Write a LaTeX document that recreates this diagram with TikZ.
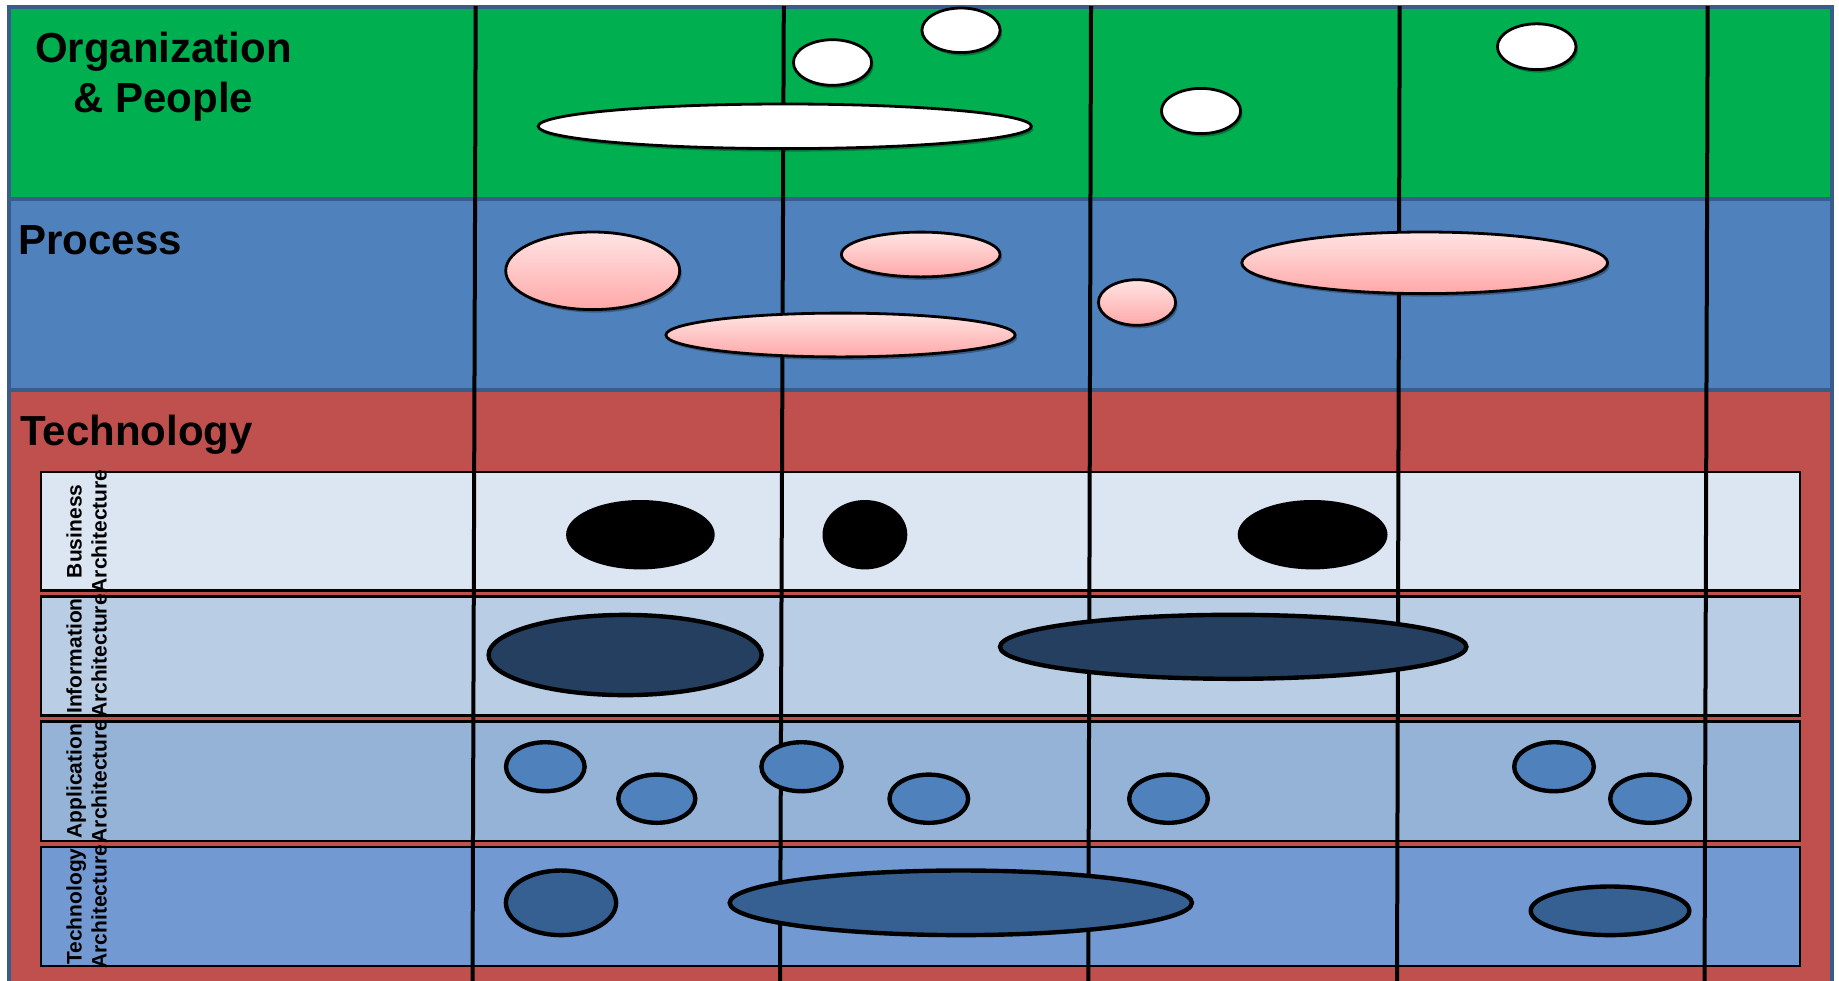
\documentclass[tikz,border=0pt]{standalone}
\usepackage{fontspec}
\setmainfont{Liberation Sans}
\usetikzlibrary{shapes.geometric,shadows}
\definecolor{bandgreen}{HTML}{00B050}
\definecolor{bandblue}{HTML}{4F81BD}
\definecolor{bandred}{HTML}{C0504D}
\definecolor{bandborder}{HTML}{385D8A}
\definecolor{rowA}{HTML}{DCE6F2}
\definecolor{rowB}{HTML}{B9CDE5}
\definecolor{rowC}{HTML}{95B3D7}
\definecolor{rowD}{HTML}{7299D2}
\definecolor{pinkTop}{HTML}{FFE4E4}
\definecolor{pinkBot}{HTML}{FFA8A8}
\definecolor{infoFill}{HTML}{243F60}
\definecolor{appFill}{HTML}{4F81BD}
\definecolor{techFill}{HTML}{366092}
\begin{document}
\begin{tikzpicture}[x=0.5pt,y=-0.5pt,
  band/.style={draw=bandborder, line width=2pt},
  rowbox/.style={draw=black, line width=1.1pt},
  vline/.style={draw=black, line width=2pt},
  blob/.style={ellipse, inner sep=0pt, outer sep=0pt},
  softshadow/.style={drop shadow={shadow xshift=1pt, shadow yshift=-1.5pt, opacity=0.3, fill=black}},
  orgE/.style={blob, fill=white, draw=black, line width=1.4pt, softshadow},
  procE/.style={blob, top color=pinkTop, bottom color=pinkBot, draw=black, line width=1.4pt, softshadow},
  busE/.style={blob, fill=black},
  infoE/.style={blob, fill=infoFill, draw=black, line width=2.2pt},
  appE/.style={blob, fill=appFill, draw=black, line width=2.2pt},
  techE/.style={blob, fill=techFill, draw=black, line width=2.2pt},
  bandlabel/.style={font=\fontsize{21}{25}\selectfont\bfseries, inner sep=0pt},
  rowlabel/.style={font=\fontsize{10.5}{12.5}\selectfont\bfseries, rotate=90, inner sep=0pt}
]
\useasboundingbox (0,0) rectangle (1839,980);
\fill[white] (0,0) rectangle (1839,980);

% bands
\draw[band, fill=bandgreen] (9,7) rectangle (1832,199);
\draw[band, fill=bandblue] (9,199) rectangle (1832,390);
\draw[band, fill=bandred] (9,390) rectangle (1832,1000);

% technology rows
\draw[rowbox, fill=rowA] (41,472) rectangle (1800,590.5);
\draw[rowbox, fill=rowB] (41,596.5) rectangle (1800,715.5);
\draw[rowbox, fill=rowC] (41,721.5) rectangle (1800,841);
\draw[rowbox, fill=rowD] (41,847) rectangle (1800,966);

% labels
\node[bandlabel, anchor=base] (lorg) at (163.5,62) {\begin{tabular}[t]{@{}c@{}}Organization\\\& People\end{tabular}};
\node[bandlabel, anchor=base west] (lproc) at (18,254) {Process};
\node[bandlabel, anchor=base west] (ltech) at (20,445) {Technology};

\node[rowlabel] (lbus) at (89,531.3) {\begin{tabular}{@{}c@{}}Business\\Architecture\end{tabular}};
\node[rowlabel] (linfo) at (89,656) {\begin{tabular}{@{}c@{}}Information\\Architecture\end{tabular}};
\node[rowlabel] (lapp) at (89,781.3) {\begin{tabular}{@{}c@{}}Application\\Architecture\end{tabular}};
\node[rowlabel] (ltec) at (89,906.5) {\begin{tabular}{@{}c@{}}Technology\\Architecture\end{tabular}};

% vertical phase lines
\coordinate (v1t) at (475.7,6);  \coordinate (v1b) at (472.5,985);
\coordinate (v2t) at (783.8,6);  \coordinate (v2b) at (780,985);
\coordinate (v3t) at (1091,6);   \coordinate (v3b) at (1088.3,985);
\coordinate (v4t) at (1399.7,6); \coordinate (v4b) at (1397,985);
\coordinate (v5t) at (1707.7,6); \coordinate (v5b) at (1704.5,985);
\draw[vline] (v1t) -- (v1b);
\draw[vline] (v2t) -- (v2b);
\draw[vline] (v3t) -- (v3b);
\draw[vline] (v4t) -- (v4b);
\draw[vline] (v5t) -- (v5b);

% organization & people
\node[orgE, minimum width=246.6pt, minimum height=22.3pt] (g3) at (784.8,126.3) {};
\node[orgE, minimum width=39.1pt, minimum height=22.8pt] (g1) at (832.5,62.5) {};
\node[orgE, minimum width=39.1pt, minimum height=22.3pt] (g2) at (961,30.3) {};
\node[orgE, minimum width=39.6pt, minimum height=22.6pt] (g4) at (1201,111) {};
\node[orgE, minimum width=39.3pt, minimum height=22.9pt] (g5) at (1536.7,46.7) {};

% process
\node[procE, minimum width=87pt, minimum height=38.8pt] (p1) at (592.7,270.8) {};
\node[procE, minimum width=79.3pt, minimum height=22.4pt] (p2) at (920.7,254.5) {};
\node[procE, minimum width=174.6pt, minimum height=21.9pt] (p3) at (840.5,335) {};
\node[procE, minimum width=38.6pt, minimum height=22.8pt] (p4) at (1137,302.5) {};
\node[procE, minimum width=182.9pt, minimum height=30.8pt] (p5) at (1424.7,262.8) {};

% business architecture
\node[busE, minimum width=74.3pt, minimum height=34.7pt] (b1) at (640.4,534.7) {};
\node[busE, minimum width=42.4pt, minimum height=34.7pt] (b2) at (864.9,534.7) {};
\node[busE, minimum width=74.9pt, minimum height=34.7pt] (b3) at (1312.6,534.7) {};

% information architecture
\node[infoE, minimum width=136.5pt, minimum height=40.1pt] (i1) at (625.1,655) {};
\node[infoE, minimum width=233.2pt, minimum height=32pt] (i2) at (1233.2,646.8) {};

% application architecture
\node[appE, minimum width=39.3pt, minimum height=24.5pt] (a1) at (545.3,766.7) {};
\node[appE, minimum width=38.5pt, minimum height=24.1pt] (a2) at (656.8,798.7) {};
\node[appE, minimum width=40.1pt, minimum height=24.5pt] (a3) at (801.5,766.7) {};
\node[appE, minimum width=39.3pt, minimum height=24.1pt] (a4) at (928.8,798.7) {};
\node[appE, minimum width=39.3pt, minimum height=24.1pt] (a5) at (1168.5,798.7) {};
\node[appE, minimum width=39.8pt, minimum height=24.5pt] (a6) at (1554,766.7) {};
\node[appE, minimum width=39.8pt, minimum height=24.1pt] (a7) at (1650,798.7) {};

% technology architecture
\node[techE, minimum width=55.1pt, minimum height=32.3pt] (t1) at (561,902.8) {};
\node[techE, minimum width=231.1pt, minimum height=32.3pt] (t2) at (960.8,902.8) {};
\node[techE, minimum width=79.3pt, minimum height=24.3pt] (t3) at (1610,910.8) {};
\end{tikzpicture}
\end{document}
